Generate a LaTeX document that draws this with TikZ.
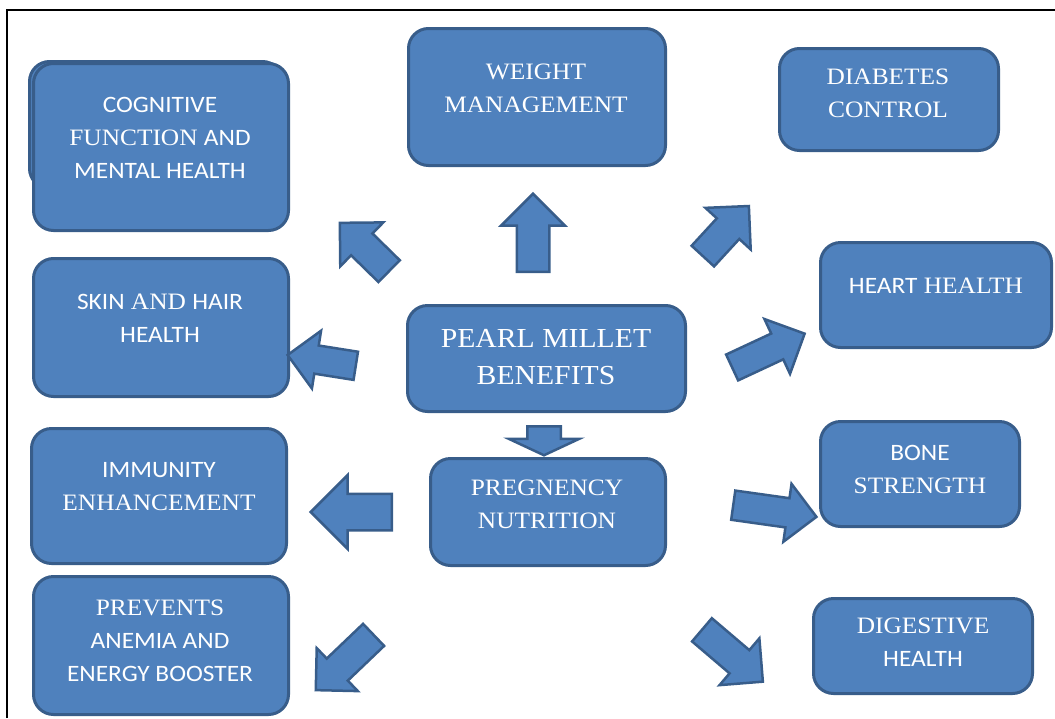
\documentclass[tikz,border=0pt]{standalone}
\usepackage{fontspec}
\usetikzlibrary{shapes.arrows}
\setmainfont[FakeStretch=1.08]{Liberation Serif}
\newfontfamily\sanf[FakeStretch=1.08]{Carlito}
\newcommand{\sn}[1]{{\sanf #1}}
\definecolor{boxfill}{HTML}{4F81BD}
\definecolor{boxline}{HTML}{385D8A}

\begin{document}
\begin{tikzpicture}[x=1pt,y=-1pt,
  box/.style={draw=boxline,line width=3pt,fill=boxfill,rounded corners=20pt,inner sep=0pt},
  txt/.style={text=white,align=center,font=\fontsize{23.5}{33}\selectfont},
  blockarrow/.style={single arrow,draw=boxline,line width=2.5pt,fill=boxfill,
    inner xsep=0pt,single arrow head indent=0pt,single arrow tip angle=90,anchor=tail}]
\useasboundingbox (0,0) rectangle (1055,718);
\draw[line width=1.5pt] (7,718) -- (7,10) -- (1055,10);
% boxes
\node[box,minimum width=253pt,minimum height=127pt] (cogback) at (156,125) {};
\node[box,minimum width=255pt,minimum height=167pt] (cog) at (161,147) {};
\node[box,minimum width=257pt,minimum height=137pt] (weight) at (537,97) {};
\node[box,minimum width=219pt,minimum height=102pt] (diabetes) at (889,99.5) {};
\node[box,minimum width=231pt,minimum height=105pt] (heart) at (936,295) {};
\node[box,minimum width=255pt,minimum height=138pt] (skin) at (161,327.5) {};
\node[box,minimum width=278pt,minimum height=106pt] (pearl) at (546.5,358.5) {};
\node[box,minimum width=255pt,minimum height=135pt] (immunity) at (159,496) {};
\node[box,minimum width=235pt,minimum height=107pt] (pregnency) at (548,512) {};
\node[box,minimum width=199pt,minimum height=105pt] (bone) at (920,474) {};
\node[box,minimum width=255pt,minimum height=138pt] (prevents) at (161,645.5) {};
\node[box,minimum width=219pt,minimum height=95pt] (digestive) at (923,646) {};
% labels
\node[txt] (cogtext) at (160,138) {\sn{COGNITIVE}\\FUNCTION \sn{AND}\\\sn{MENTAL HEALTH}};
\node[txt] (weighttext) at (536,88) {WEIGHT\\MANAGEMENT};
\node[txt] (diabetestext) at (888,93) {DIABETES\\CONTROL};
\node[txt] (hearttext) at (936,286) {\sn{HEART} HEALTH};
\node[txt] (skintext) at (160,318) {\sn{SKIN} AND \sn{HAIR}\\\sn{HEALTH}};
\node[txt,font=\fontsize{27.5}{37}\selectfont] (pearltext) at (546,357) {PEARL MILLET\\BENEFITS};
\node[txt] (immunitytext) at (159,487) {\sn{IMMUNITY}\\ENHANCEMENT};
\node[txt] (pregnencytext) at (547,504) {PREGNENCY\\NUTRITION};
\node[txt] (bonetext) at (920,469) {\sn{BONE}\\STRENGTH};
\node[txt] (preventstext) at (160,641) {PREVENTS\\\sn{ANEMIA AND}\\\sn{ENERGY BOOSTER}};
\node[txt] (digestivetext) at (923,642) {DIGESTIVE\\\sn{HEALTH}};
% block arrows
\node[blockarrow,minimum height=78pt,inner ysep=15pt,single arrow head extend=15.5pt,rotate=90] (toweight) at (533,273) {};
\node[blockarrow,minimum height=69pt,inner ysep=14pt,single arrow head extend=15.5pt,rotate=135.6] (tocog) at (390,272) {};
\node[blockarrow,minimum height=68pt,inner ysep=14pt,single arrow head extend=15.5pt,rotate=47.4] (todiabetes) at (702,257) {};
\node[blockarrow,minimum height=69pt,inner ysep=13pt,single arrow head extend=15pt,rotate=171] (toskin) at (357,366) {};
\node[blockarrow,minimum height=80pt,inner ysep=13pt,single arrow head extend=16pt,rotate=25] (toheart) at (731,368) {};
\node[blockarrow,minimum height=29pt,inner ysep=15.5pt,single arrow head extend=18.5pt,single arrow tip angle=130,rotate=-90] (topregnency) at (544,425) {};
\node[blockarrow,minimum height=81pt,inner ysep=17pt,single arrow head extend=18.5pt,rotate=180] (toimmunity) at (393,512) {};
\node[blockarrow,minimum height=84pt,inner ysep=13.5pt,single arrow head extend=14.5pt,rotate=-8] (tobone) at (732,505) {};
\node[blockarrow,minimum height=80pt,inner ysep=14pt,single arrow head extend=14.5pt,rotate=223.7] (toprevents) at (374.5,634) {};
\node[blockarrow,minimum height=80pt,inner ysep=14pt,single arrow head extend=15.5pt,rotate=-40.4] (todigestive) at (701,629) {};
\end{tikzpicture}
\end{document}
